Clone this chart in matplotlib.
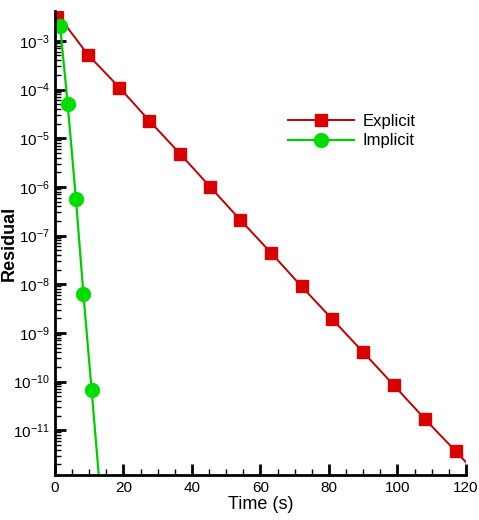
import matplotlib
matplotlib.use("Agg")
import matplotlib.pyplot as plt
from matplotlib.ticker import LogLocator, MultipleLocator

plt.rcParams['font.family'] = ['Liberation Sans', 'DejaVu Sans']
plt.rcParams['mathtext.fontset'] = 'custom'
plt.rcParams['mathtext.rm'] = 'Liberation Sans'
plt.rcParams['mathtext.it'] = 'Liberation Sans:italic'

# residual history of both time-stepping schemes
t_explicit = [0.6, 9.6, 18.8, 27.5, 36.5, 45.3, 54.1, 63.1, 72.0, 81.0, 90.0, 99.0, 108.0, 117.0, 126.0]
r_explicit = [3.6e-3, 5.2e-4, 1.1e-4, 2.3e-5, 4.8e-6, 1.0e-6, 2.1e-7, 4.4e-8,
              9.0e-9, 1.9e-9, 4.0e-10, 8.3e-11, 1.7e-11, 3.7e-12, 7.8e-13]

t_implicit = [1.5, 3.7, 6.1, 8.3, 10.7, 13.1]
r_implicit = [2.0e-3, 5.1e-5, 5.7e-7, 6.3e-9, 6.6e-11, 6.5e-13]

decades = [1e-11, 1e-10, 1e-9, 1e-8, 1e-7, 1e-6, 1e-5, 1e-4, 1e-3]

fig = plt.figure(figsize=(4.79, 5.20), dpi=100)
ax = fig.add_axes([0.1148, 0.0865, 0.858, 0.8923])

ax.plot(t_explicit, r_explicit, color='#c00000', lw=1.4, marker='s', ms=8,
        mfc='#d90000', mec='#d90000', label='Explicit')
ax.plot(t_implicit, r_implicit, color='#00cc00', lw=1.6, marker='o', ms=10,
        mfc='#00dd00', mec='#00dd00', label='Implicit')

ax.set_yscale('log')
ax.set_xlim(0, 120)
ax.set_ylim(1.2e-12, 4.1e-3)

ax.xaxis.set_major_locator(MultipleLocator(20))
ax.xaxis.set_minor_locator(MultipleLocator(5))
ax.set_yticks(decades)
ax.yaxis.set_minor_locator(LogLocator(base=10, subs=range(2, 10), numticks=20))

for s in ['top', 'right']:
    ax.spines[s].set_visible(False)
for s in ['left', 'bottom']:
    ax.spines[s].set_linewidth(2)

ax.tick_params(which='major', direction='in', length=8, width=2, labelsize=11, pad=4)
ax.tick_params(which='minor', direction='in', length=4, width=1)

ax.set_xlabel('Time (s)', fontsize=13)
ax.xaxis.set_label_coords(0.5, -0.045)
ax.set_ylabel('Residual', fontsize=13, fontweight='bold')
ax.yaxis.set_label_coords(-0.09, 0.5)

ax.legend(loc='upper left', bbox_to_anchor=(0.53, 0.81), frameon=False,
          fontsize=12, handlelength=4, handletextpad=0.5, labelspacing=0.25)

fig.savefig('out.png', dpi=100)
